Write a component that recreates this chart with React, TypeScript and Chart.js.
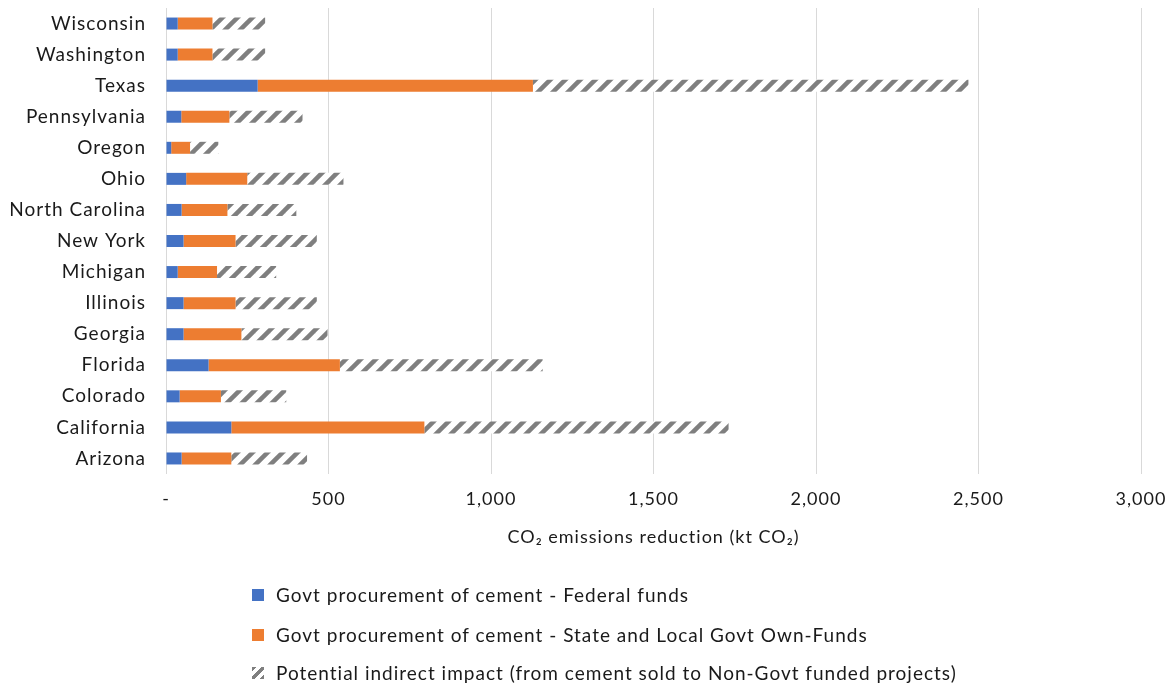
import React, { useEffect, useRef } from "react";
import { Chart, registerables } from "chart.js";

Chart.register(...registerables);

// ---- Data ----
const states = [
  "Wisconsin",
  "Washington",
  "Texas",
  "Pennsylvania",
  "Oregon",
  "Ohio",
  "North Carolina",
  "New York",
  "Michigan",
  "Illinois",
  "Georgia",
  "Florida",
  "Colorado",
  "California",
  "Arizona",
];
const federalFunds = [36, 36, 282, 47, 16, 62, 48, 54, 36, 54, 54, 131, 42, 201, 48];
const stateLocalFunds = [107, 107, 847, 148, 58, 188, 141, 160, 121, 160, 178, 404, 127, 594, 153];
const indirectImpact = [162, 162, 1340, 225, 87, 296, 212, 250, 182, 250, 265, 624, 201, 936, 233];
const seriesLabels = [
  "Govt procurement of cement - Federal funds",
  "Govt procurement of cement - State and Local Govt Own-Funds",
  "Potential indirect impact (from cement sold to Non-Govt funded projects)",
];
const xMin = 0;
const xMax = 3000;
const xStep = 500;
const axisTitle = "CO\u2082 emissions reduction (kt CO\u2082)";

const BLUE = "#4472C4";
const ORANGE = "#ED7D31";
const HATCH = "#7F7F7F";
const GRID = "#D9D9D9";
const TEXT = "#1A1A1A";
const FONT = "Lato, 'Open Sans', sans-serif";

function makeHatch(ctx: CanvasRenderingContext2D): CanvasPattern | string {
  const size = 15;
  const c = document.createElement("canvas");
  c.width = size;
  c.height = size;
  const g = c.getContext("2d");
  if (!g) return HATCH;
  g.fillStyle = "#FFFFFF";
  g.fillRect(0, 0, size, size);
  g.strokeStyle = HATCH;
  g.lineWidth = 4.5;
  for (const off of [-size, 0, size]) {
    g.beginPath();
    g.moveTo(off - 2, size + 2);
    g.lineTo(off + size + 2, -2);
    g.stroke();
  }
  return ctx.createPattern(c, "repeat") || HATCH;
}

const spacingPlugin = {
  id: "letterSpacing",
  beforeUpdate(chart: any) {
    try {
      chart.ctx.letterSpacing = "1px";
    } catch (e) {}
  },
  beforeDraw(chart: any) {
    try {
      chart.ctx.letterSpacing = "1px";
    } catch (e) {}
  },
};

export default function App() {
  const ref = useRef<HTMLCanvasElement | null>(null);

  useEffect(() => {
    const canvas = ref.current;
    if (!canvas) return;
    const ctx = canvas.getContext("2d");
    if (!ctx) return;
    const hatch = makeHatch(ctx);

    const common = { borderWidth: 0, barPercentage: 0.386, categoryPercentage: 1 };

    const chart = new Chart(canvas, {
      type: "bar",
      data: {
        labels: states,
        datasets: [
          { label: seriesLabels[0], data: federalFunds, backgroundColor: BLUE, ...common },
          { label: seriesLabels[1], data: stateLocalFunds, backgroundColor: ORANGE, ...common },
          { label: seriesLabels[2], data: indirectImpact, backgroundColor: hatch as any, ...common },
        ],
      },
      options: {
        indexAxis: "y",
        responsive: false,
        maintainAspectRatio: false,
        animation: false,
        layout: { padding: { top: 8, right: 35, bottom: 136, left: 0 } },
        plugins: {
          legend: { display: false },
          tooltip: { enabled: false },
          title: { display: false },
        },
        scales: {
          x: {
            stacked: true,
            min: xMin,
            max: xMax,
            border: { display: false },
            grid: { color: GRID, lineWidth: 1, drawTicks: false },
            ticks: {
              stepSize: xStep,
              padding: 14,
              color: TEXT,
              font: { family: FONT, size: 18 },
              maxRotation: 0,
              callback: (v: any) => (Number(v) === 0 ? "-" : Number(v).toLocaleString("en-US")),
            },
            title: {
              display: true,
              text: axisTitle,
              color: TEXT,
              font: { family: FONT, size: 18 },
              padding: { top: 16, bottom: 0 },
            },
            afterFit: (scale: any) => {
              scale.height = 74;
              scale.paddingLeft = 0;
              scale.paddingRight = 0;
            },
          },
          y: {
            stacked: true,
            border: { display: false },
            grid: { display: false, drawTicks: false },
            ticks: {
              color: TEXT,
              padding: 20,
              font: { family: FONT, size: 19 },
            },
            afterFit: (scale: any) => {
              scale.width = 166;
              scale.paddingTop = 0;
              scale.paddingBottom = 0;
            },
          },
        },
      },
      plugins: [spacingPlugin],
    });

    return () => chart.destroy();
  }, []);

  const legendRows = [
    { y: 595, swatch: BLUE as string },
    { y: 634.5, swatch: ORANGE as string },
    { y: 673, swatch: "hatch" },
  ];

  return (
    <div
      style={{
        position: "absolute",
        left: 0,
        top: 0,
        width: 1176,
        height: 684,
        background: "#FFFFFF",
        overflow: "hidden",
      }}
    >
      <canvas ref={ref} width={1176} height={684} style={{ display: "block" }} />
      {legendRows.map((r, i) => (
        <div key={i}>
          <div
            style={{
              position: "absolute",
              left: 252,
              top: r.y - 6,
              width: 12,
              height: 12,
              background:
                r.swatch === "hatch"
                  ? `repeating-linear-gradient(135deg, ${HATCH} 0px, ${HATCH} 3px, #FFFFFF 3px, #FFFFFF 7px)`
                  : r.swatch,
            }}
          />
          <div
            style={{
              position: "absolute",
              left: 276,
              top: r.y - 12,
              height: 24,
              lineHeight: "24px",
              fontFamily: FONT,
              fontSize: 19,
              letterSpacing: "1px",
              color: TEXT,
              whiteSpace: "nowrap",
            }}
          >
            {seriesLabels[i]}
          </div>
        </div>
      ))}
    </div>
  );
}
